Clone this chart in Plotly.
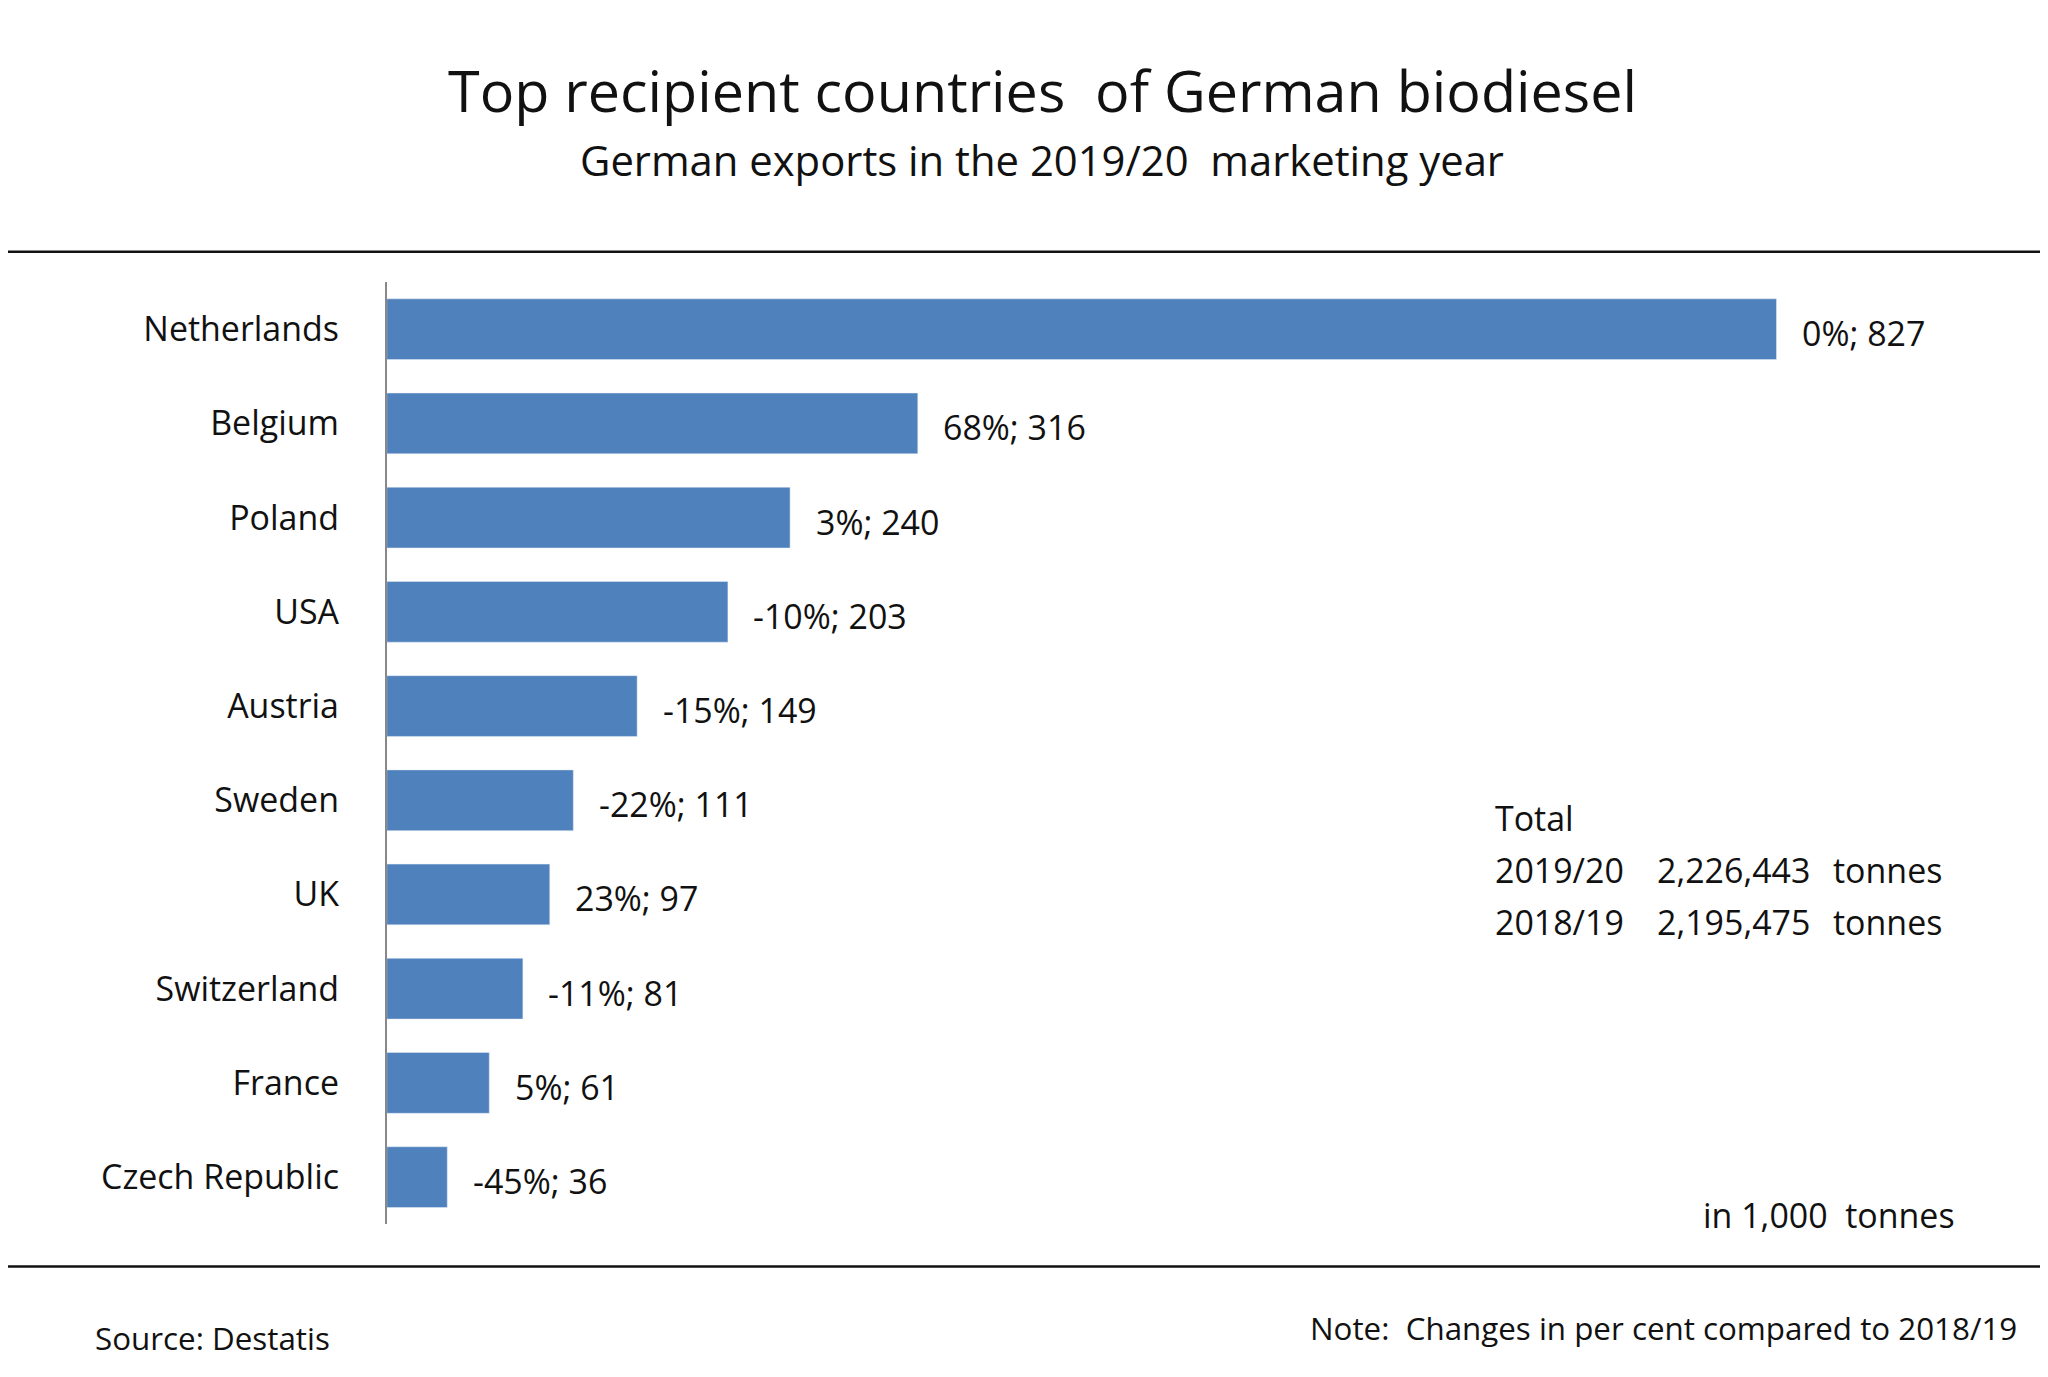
import plotly.graph_objects as go

countries = ["Netherlands","Belgium","Poland","USA","Austria","Sweden","UK","Switzerland","France","Czech Republic"]
values = [827,316,240,203,149,111,97,81,61,36]
changes = ["0%","68%","3%","-10%","-15%","-22%","23%","-11%","5%","-45%"]

W, H = 2048, 1377
RW, RH = 1568, 1045
s = W / RW
F = "Open Sans, Noto Sans, sans-serif"

def px(x): return x / RW
def py(y): return 1 - y / RH

fig = go.Figure(go.Bar(x=values, y=countries, orientation="h",
                       marker_color="#4f81bd", width=0.645))

anns = []
for c, v, ch in zip(countries, values, changes):
    anns.append(dict(x=v, y=c, xref="x", yref="y", text=f"{ch}; {v}", showarrow=False,
                     xanchor="left", xshift=18*s, yshift=-3*s, font=dict(size=26*s, color="#111")))

def pa(x, y, t, size, anchor="left"):
    anns.append(dict(x=px(x), y=py(y), xref="paper", yref="paper", text=t, showarrow=False,
                     xanchor=anchor, yanchor="middle", font=dict(size=size*s, color="#111")))

pa(792, 62, "Top recipient countries  of German biodiesel", 44, "center")
pa(792, 115, "German exports in the 2019/20  marketing year", 32, "center")
pa(1137, 615, "Total", 26)
pa(1137, 654, "2019/20", 26); pa(1261, 654, "2,226,443", 26); pa(1396, 654, "tonnes", 26)
pa(1137, 694, "2018/19", 26); pa(1261, 694, "2,195,475", 26); pa(1396, 694, "tonnes", 26)
pa(1492, 916, "in 1,000  tonnes", 26, "right")
pa(65, 1009, "Source: Destatis", 24)
pa(1540, 1002, "Note:  Changes in per cent compared to 2018/19", 24, "right")

x0, x1 = px(290), px(1540)
xmax = (1540 - 290) / (1064 / 827)

fig.update_layout(
    width=W, height=H, margin=dict(l=0, r=0, t=0, b=0),
    paper_bgcolor="white", plot_bgcolor="white",
    font=dict(family=F, color="#111"), showlegend=False,
    xaxis=dict(domain=[x0, x1], range=[0, xmax], visible=False),
    yaxis=dict(domain=[py(923), py(208)], autorange="reversed", showline=True,
               linecolor="#888", linewidth=2, ticks="", ticklabelstandoff=int(30*s),
               tickfont=dict(size=26*s, color="#111"), showgrid=False),
    annotations=anns,
    shapes=[dict(type="line", xref="paper", yref="paper", x0=0, x1=1, y0=py(185), y1=py(185),
                 line=dict(color="#111", width=2.5)),
            dict(type="line", xref="paper", yref="paper", x0=0, x1=1, y0=py(955), y1=py(955),
                 line=dict(color="#111", width=2.5))],
)
fig.write_html("out.html")
